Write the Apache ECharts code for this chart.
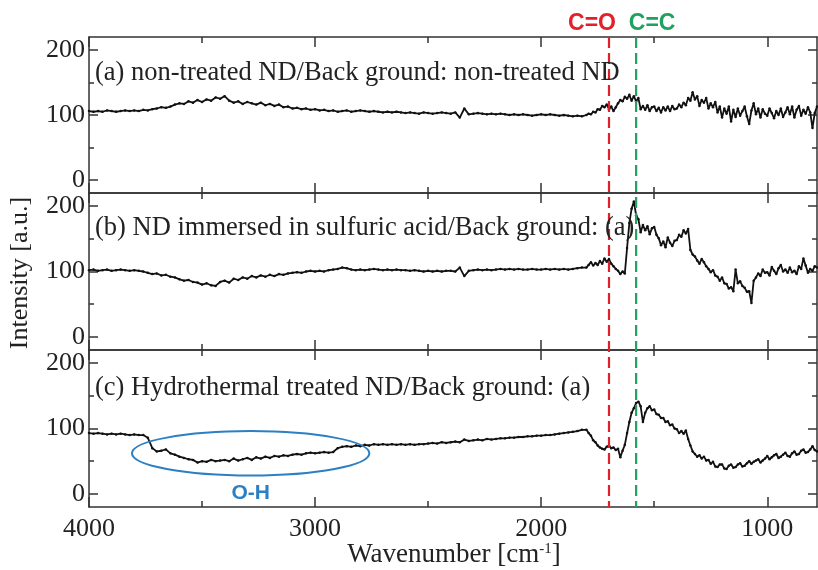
<!DOCTYPE html>
<html>
<head>
<meta charset="utf-8">
<script src="https://cdn.jsdelivr.net/npm/echarts@6/dist/echarts.min.js"></script>
<style>
  html, body { margin: 0; padding: 0; background: #fff; }
  #chart { width: 818px; height: 570px; }
</style>
</head>
<body>
<div id="chart"></div>
<script>
// FT-IR difference spectra of nanodiamond (ND) samples

// Wavenumber grid [cm^-1]: 20 cm^-1 steps above 1800, 10 cm^-1 steps below
const wavenumber = [
  4000,3980,3960,3940,3920,3900,3880,3860,3840,3820,
  3800,3780,3760,3740,3720,3700,3680,3660,3640,3620,
  3600,3580,3560,3540,3520,3500,3480,3460,3440,3420,
  3400,3380,3360,3340,3320,3300,3280,3260,3240,3220,
  3200,3180,3160,3140,3120,3100,3080,3060,3040,3020,
  3000,2980,2960,2940,2920,2900,2880,2860,2840,2820,
  2800,2780,2760,2740,2720,2700,2680,2660,2640,2620,
  2600,2580,2560,2540,2520,2500,2480,2460,2440,2420,
  2400,2380,2360,2340,2320,2300,2280,2260,2240,2220,
  2200,2180,2160,2140,2120,2100,2080,2060,2040,2020,
  2000,1980,1960,1940,1920,1900,1880,1860,1840,1820,
  1800,1790,1780,1770,1760,1750,1740,1730,1720,1710,
  1700,1690,1680,1670,1660,1650,1640,1630,1620,1610,
  1600,1590,1580,1570,1560,1550,1540,1530,1520,1510,
  1500,1490,1480,1470,1460,1450,1440,1430,1420,1410,
  1400,1390,1380,1370,1360,1350,1340,1330,1320,1310,
  1300,1290,1280,1270,1260,1250,1240,1230,1220,1210,
  1200,1190,1180,1170,1160,1150,1140,1130,1120,1110,
  1100,1090,1080,1070,1060,1050,1040,1030,1020,1010,
  1000,990,980,970,960,950,940,930,920,910,
  900,890,880,870,860,850,840,830,820,810,
  800,790,780
];

// (a) non-treated ND / background: non-treated ND
const intensityA = [
  106,105,106,105,107,106,105,106,107,106,
  107,106,108,107,109,110,112,111,113,116,
  118,117,121,119,123,120,124,122,127,125,
  129,122,119,121,117,120,118,116,119,115,
  117,114,116,112,113,110,111,109,110,108,
  109,107,108,106,107,105,106,107,105,106,
  107,106,105,106,105,104,105,104,105,104,
  103,104,103,102,104,103,102,103,104,103,
  102,104,96,110,101,102,103,102,101,102,
  101,102,101,100,101,100,101,100,99,100,
  101,100,101,100,99,100,99,98,99,98,
  100,102,101,105,104,109,108,114,112,116,
  109,113,106,112,118,123,121,128,125,131,
  122,129,121,126,109,114,108,115,106,112,
  113,106,111,104,112,107,113,106,114,109,
  110,116,112,119,115,126,122,135,124,129,
  114,123,119,126,110,118,112,120,104,113,
  96,110,102,113,90,108,97,110,99,106,
  113,98,86,107,118,101,110,96,109,102,
  99,110,103,95,106,100,110,97,104,112,
  101,113,96,108,114,99,108,102,112,104,
  80,103,113
];

// (b) ND immersed in sulfuric acid / background: (a)
const intensityB = [
  102,103,101,102,103,101,102,103,102,101,
  102,101,100,98,96,97,94,95,92,91,
  88,86,87,84,83,80,82,79,78,84,
  86,83,89,87,91,89,93,91,94,92,
  95,93,96,95,97,98,99,98,100,101,
  100,101,100,102,103,104,106,105,103,102,
  103,102,103,104,103,102,103,102,103,102,
  102,101,102,101,100,101,100,101,100,101,
  101,100,106,93,101,102,103,102,103,102,
  103,104,103,104,103,104,103,103,104,103,
  103,104,103,104,103,104,103,104,105,106,
  106,110,114,109,113,110,116,112,120,115,
  119,112,108,104,101,96,100,97,136,174,
  196,207,186,180,160,171,163,169,157,166,
  168,156,151,140,146,137,152,144,139,147,
  148,156,153,163,158,165,133,126,123,117,
  112,119,114,108,104,99,102,94,92,86,
  91,82,81,74,76,70,103,82,85,78,
  75,69,70,52,86,91,97,93,103,98,
  99,94,107,101,96,105,110,100,103,98,
  106,99,101,96,108,104,120,109,98,104,
  101,108,106
];

// (c) Hydrothermal treated ND / background: (a)
const intensityC = [
  93,92,93,92,91,92,91,92,91,90,
  91,90,90,86,70,65,66,68,62,60,
  57,55,53,52,48,50,49,52,50,51,
  52,50,54,51,53,55,52,56,54,57,
  55,58,57,59,58,60,61,60,62,63,
  62,63,64,63,64,70,72,73,72,74,
  73,75,74,76,75,76,75,76,75,76,
  75,76,75,76,76,77,78,77,79,78,
  79,80,79,83,81,82,83,82,84,83,
  84,85,85,86,86,87,87,88,88,89,
  89,90,90,91,92,93,94,95,96,98,
  98,93,89,82,79,74,71,69,68,72,
  74,70,71,67,69,56,66,75,93,110,
  124,131,139,141,134,110,124,131,134,128,
  129,122,121,116,116,110,111,105,106,100,
  99,93,96,92,97,84,74,65,61,57,
  59,54,57,51,52,46,49,42,41,45,
  45,39,38,43,45,40,41,45,47,42,
  43,47,50,46,49,51,53,48,51,54,
  58,53,56,59,61,55,57,60,63,58,
  57,62,65,60,61,66,68,63,64,68,
  73,67,65
];

const panelTitles = [
  '(a) non-treated ND/Back ground: non-treated ND',
  '(b) ND immersed in sulfuric acid/Back ground: (a)',
  '(c) Hydrothermal treated ND/Back ground: (a)'
];

const xMajorTicks = [1000, 2000, 3000, 4000];
const xMinorTicks = [1500, 2500, 3500];
const yMajorTicks = [0, 100, 200];
const yMinorTicks = [50, 150];

// Band assignments
const bandCO = 1700;   // C=O stretch
const bandCC = 1580;   // C=C stretch
const bandOH = { center: 3285, halfWidth: 525, level: 62, halfHeight: 34 }; // O-H region in (c)

const X_MIN = 780, X_MAX = 4000, Y_MIN = -20, Y_MAX = 220;
const serif = '"Liberation Serif", "DejaVu Serif", serif';
const sans = '"Liberation Sans", Arial, sans-serif';
const axisColor = '#333';

const grids = [
  { left: 89, right: 1, top: 37, height: 156 },
  { left: 89, right: 1, top: 193, height: 157 },
  { left: 89, right: 1, top: 350, height: 157 }
];

const xAxes = [];
const yAxes = [];

function plainNumber(v) { return String(v); }

function xAxis(g, position, ticks, len, withLine, labels) {
  return {
    gridIndex: g, type: 'value', min: X_MIN, max: X_MAX, inverse: true,
    position: position,
    axisLine: { show: withLine, onZero: false, lineStyle: { color: axisColor, width: 1.5 } },
    axisTick: { show: true, inside: true, length: len, customValues: ticks,
                lineStyle: { color: axisColor, width: 1.5 } },
    axisLabel: labels ? {
      show: true, customValues: labels, margin: 9, formatter: plainNumber,
      fontFamily: serif, fontSize: 26, color: '#222'
    } : { show: false },
    splitLine: { show: false }
  };
}

function yAxis(g, position, ticks, len, withLine, labels) {
  return {
    gridIndex: g, type: 'value', min: Y_MIN, max: Y_MAX,
    position: position,
    axisLine: { show: withLine, onZero: false, lineStyle: { color: axisColor, width: 1.5 } },
    axisTick: { show: true, inside: true, length: len, customValues: ticks,
                lineStyle: { color: axisColor, width: 1.5 } },
    axisLabel: labels ? {
      show: true, customValues: labels, margin: 4, formatter: plainNumber,
      fontFamily: serif, fontSize: 26, color: '#222'
    } : { show: false },
    splitLine: { show: false }
  };
}

for (let g = 0; g < 3; g++) {
  // x: bottom major, bottom minor, top major, top minor
  xAxes.push(xAxis(g, 'bottom', xMajorTicks, 10, true, g === 2 ? xMajorTicks : null));
  xAxes.push(xAxis(g, 'bottom', xMinorTicks, 6, false, null));
  xAxes.push(xAxis(g, 'top', xMajorTicks, 10, true, null));
  xAxes.push(xAxis(g, 'top', xMinorTicks, 6, false, null));
  // y: left major, left minor, right major, right minor
  yAxes.push(yAxis(g, 'left', yMajorTicks, 9, true, yMajorTicks));
  yAxes.push(yAxis(g, 'left', yMinorTicks, 5, false, null));
  yAxes.push(yAxis(g, 'right', yMajorTicks, 9, true, null));
  yAxes.push(yAxis(g, 'right', yMinorTicks, 5, false, null));
}

const spectra = [intensityA, intensityB, intensityC];
const series = spectra.map(function (vals, g) {
  return {
    type: 'line',
    xAxisIndex: g * 4,
    yAxisIndex: g * 4,
    data: wavenumber.map(function (w, i) { return [w, vals[i]]; }),
    symbol: 'circle',
    symbolSize: 2.5,
    showSymbol: true,
    showAllSymbol: true,
    lineStyle: { color: '#111', width: 1.8 },
    itemStyle: { color: '#111' },
    silent: true,
    z: 3
  };
});

const chart = echarts.init(document.getElementById('chart'), null, { renderer: 'canvas' });
chart.setOption({
  animation: false,
  backgroundColor: '#fff',
  grid: grids,
  xAxis: xAxes,
  yAxis: yAxes,
  series: series
});

// Annotations placed through the axes' own scales
const xCO = chart.convertToPixel({ xAxisIndex: 0 }, bandCO);
const xCC = chart.convertToPixel({ xAxisIndex: 0 }, bandCC);
const yTop = grids[0].top;
const yBottom = grids[2].top + grids[2].height;

const ohCx = chart.convertToPixel({ xAxisIndex: 8 }, bandOH.center);
const ohX1 = chart.convertToPixel({ xAxisIndex: 8 }, bandOH.center - bandOH.halfWidth);
const ohCy = chart.convertToPixel({ yAxisIndex: 8 }, bandOH.level);
const ohY1 = chart.convertToPixel({ yAxisIndex: 8 }, bandOH.level + bandOH.halfHeight);
const ohRx = Math.abs(ohCx - ohX1);
const ohRy = Math.abs(ohCy - ohY1);

const titleY = [73, 228, 388];

const graphics = [
  {
    type: 'line', z: 10,
    shape: { x1: xCO, y1: yTop, x2: xCO, y2: yBottom },
    style: { stroke: '#e3202a', lineWidth: 2.2, lineDash: [11, 5] }
  },
  {
    type: 'line', z: 10,
    shape: { x1: xCC, y1: yTop, x2: xCC, y2: yBottom },
    style: { stroke: '#1fa25e', lineWidth: 2.2, lineDash: [11, 5] }
  },
  {
    type: 'text', z: 11,
    style: { text: 'C=O', x: xCO - 17, y: 24, fill: '#e3202a',
             font: 'bold 23px ' + sans, textAlign: 'center', textVerticalAlign: 'middle',
             align: 'center', verticalAlign: 'middle' }
  },
  {
    type: 'text', z: 11,
    style: { text: 'C=C', x: xCC + 16, y: 24, fill: '#1fa25e',
             font: 'bold 23px ' + sans, textAlign: 'center', textVerticalAlign: 'middle',
             align: 'center', verticalAlign: 'middle' }
  },
  {
    type: 'ellipse', z: 10,
    shape: { cx: ohCx, cy: ohCy, rx: ohRx, ry: ohRy },
    style: { fill: 'none', stroke: '#2b7fc4', lineWidth: 2 }
  },
  {
    type: 'text', z: 11,
    style: { text: 'O-H', x: ohCx, y: 493, fill: '#2b7fc4',
             font: 'bold 21px ' + sans, textAlign: 'center', textVerticalAlign: 'middle',
             align: 'center', verticalAlign: 'middle' }
  },
  {
    type: 'text', z: 11,
    rotation: Math.PI / 2,
    x: 20, y: 273,
    style: { text: 'Intensity [a.u.]', x: 0, y: 0, fill: '#222',
             font: '26px ' + serif, textAlign: 'center', textVerticalAlign: 'middle',
             align: 'center', verticalAlign: 'middle' }
  },
  {
    type: 'text', z: 11,
    style: {
      text: 'Wavenumber [cm{sup|-1}]', x: 454, y: 555, fill: '#222',
      font: '27px ' + serif, fontFamily: serif, fontSize: 27,
      textAlign: 'center', textVerticalAlign: 'middle',
      align: 'center', verticalAlign: 'middle',
      rich: { sup: { fontSize: 15, fontFamily: serif, fill: '#222', verticalAlign: 'top', lineHeight: 27 } }
    }
  }
];

panelTitles.forEach(function (t, i) {
  graphics.push({
    type: 'text', z: 11,
    style: { text: t, x: 95, y: titleY[i], fill: '#222',
             font: '26.5px ' + serif, textAlign: 'left', textVerticalAlign: 'middle',
             align: 'left', verticalAlign: 'middle' }
  });
});

chart.setOption({ graphic: graphics });
</script>
</body>
</html>
